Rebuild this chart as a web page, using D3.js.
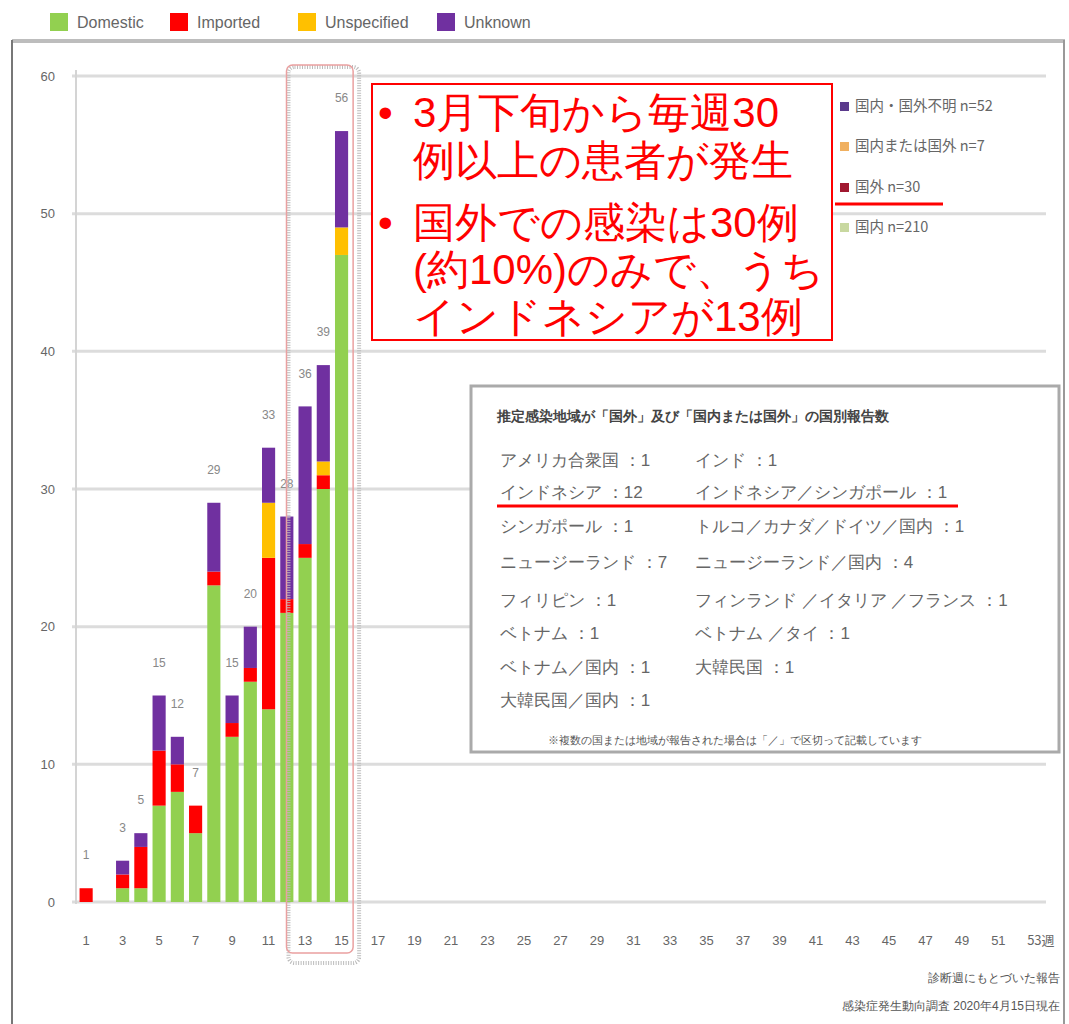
<!DOCTYPE html>
<html><head><meta charset="utf-8">
<script src="https://cdn.jsdelivr.net/npm/d3@7"></script>
<style>
body{margin:0;background:#fff;}
svg{display:block;}
text{font-family:"Liberation Sans",Arial,sans-serif;}
.jp{font-family:"Noto Sans CJK JP",sans-serif;}
</style></head>
<body>
<svg id="c" width="1069" height="1024"></svg>
<script>
// ---- data ----
const weeks = d3.range(1, 54);
const barWeeks = [1,2,3,4,5,6,7,8,9,10,11,12,13,14,15];
const domestic    = [0,0,1,1,7,8,5,23,12,16,14,21,25,30,47];
const imported    = [1,0,1,3,4,2,2,1,1,1,11,1,1,1,0];
const unspecified = [0,0,0,0,0,0,0,0,0,0,4,0,0,1,2];
const unknown     = [0,0,1,1,4,2,0,5,2,3,4,6,10,7,7];
const seriesNames = ["Domestic","Imported","Unspecified","Unknown"];
const seriesColors = ["#92d050","#ff0000","#ffc000","#7030a0"];
const xTickLabels = [1,3,5,7,9,11,13,15,17,19,21,23,25,27,29,31,33,35,37,39,41,43,45,47,49,51,53];
const yTicks = [0,10,20,30,40,50,60];
const rightLegend = ["国内・国外不明 n=52","国内または国外 n=7","国外 n=30","国内 n=210"];
const rightLegendColors = ["#5b3a8c","#f0b060","#a01830","#c8d8a0"];
const annotLines = ["3月下旬から毎週30","例以上の患者が発生","国外での感染は30例","(約10%)のみで、うち","インドネシアが13例"];
const insetTitle = "推定感染地域が「国外」及び「国内または国外」の国別報告数";
const insetCol1 = ["アメリカ合衆国 ：1","インドネシア ：12","シンガポール ：1","ニュージーランド ：7","フィリピン ：1","ベトナム ：1","ベトナム／国内 ：1","大韓民国／国内 ：1"];
const insetCol2 = ["インド ：1","インドネシア／シンガポール ：1","トルコ／カナダ／ドイツ／国内 ：1","ニュージーランド／国内 ：4","フィンランド ／イタリア ／フランス ：1","ベトナム ／タイ ：1","大韓民国 ：1"];
const insetNote = "※複数の国または地域が報告された場合は「／」で区切って記載しています";
const source = ["診断週にもとづいた報告","感染症発生動向調査 2020年4月15日現在"];

const svg = d3.select("#c");
svg.append("rect").attr("width",1069).attr("height",1024).attr("fill","#fff");

const x = d3.scaleBand().domain(weeks).range([77,1044]).paddingInner(0.28).paddingOuter(0.14);
const y = d3.scaleLinear().domain([0,60]).range([902,76]);

// frame
svg.append("line").attr("x1",12).attr("x2",1065).attr("y1",41).attr("y2",41).attr("stroke","#bdbdbd").attr("stroke-width",4);
svg.append("line").attr("x1",12).attr("x2",12).attr("y1",40).attr("y2",1024).attr("stroke","#777").attr("stroke-width",2);
svg.append("line").attr("x1",1064).attr("x2",1064).attr("y1",40).attr("y2",1024).attr("stroke","#999").attr("stroke-width",2);

// gridlines
svg.append("g").selectAll("line").data(yTicks).join("line")
  .attr("x1",72).attr("x2",1046).attr("y1",d=>y(d)).attr("y2",d=>y(d))
  .attr("stroke","#dcdcdc").attr("stroke-width",3);
svg.append("line").attr("x1",76).attr("x2",76).attr("y1",70).attr("y2",904).attr("stroke","#d4d4d4").attr("stroke-width",2);

// y labels
svg.append("g").selectAll("text").data(yTicks).join("text")
  .attr("x",55).attr("y",d=>y(d)).attr("dy","0.35em").attr("text-anchor","end")
  .attr("font-size",13).attr("fill","#666").text(d=>d);

// x labels
svg.append("g").selectAll("text").data(xTickLabels).join("text")
  .attr("x",d=>x(d)+x.bandwidth()/2 + (d===53?6:0)).attr("y",940).attr("dy","0.35em").attr("text-anchor","middle")
  .attr("font-size",13).attr("fill","#666")
  .attr("class",d=>d===53?"jp":null)
  .text(d=>d===53?"53週":d);

// stacked bars
const rows = barWeeks.map((w,i)=>({week:w,Domestic:domestic[i],Imported:imported[i],Unspecified:unspecified[i],Unknown:unknown[i]}));
const stack = d3.stack().keys(seriesNames)(rows);
svg.append("g").selectAll("g").data(stack).join("g")
  .attr("fill",(d,i)=>seriesColors[i])
  .selectAll("rect").data(d=>d).join("rect")
  .attr("x",d=>x(d.data.week)).attr("width",x.bandwidth())
  .attr("y",d=>y(d[1])).attr("height",d=>y(d[0])-y(d[1]));

// totals
svg.append("g").selectAll("text").data(rows.filter(r=>r.Domestic+r.Imported+r.Unspecified+r.Unknown>0)).join("text")
  .attr("x",d=>x(d.week)+x.bandwidth()/2)
  .attr("y",d=>y(d.Domestic+d.Imported+d.Unspecified+d.Unknown)-33).attr("dy","0.35em")
  .attr("text-anchor","middle").attr("font-size",12).attr("fill","#888")
  .text(d=>d.Domestic+d.Imported+d.Unspecified+d.Unknown);

// highlight rect around weeks 13-15
const hx0 = x(13)-12, hx1 = x(15)+x.bandwidth()+5;
svg.append("rect").attr("x",hx0+2).attr("y",67).attr("width",hx1-hx0+4).attr("height",896)
  .attr("rx",6).attr("fill","none").attr("stroke","#bbb").attr("stroke-width",4).attr("stroke-dasharray","1,1.5");
svg.append("rect").attr("x",hx0).attr("y",65).attr("width",hx1-hx0).attr("height",888)
  .attr("rx",6).attr("fill","none").attr("stroke","#eaa0a0").attr("stroke-width",1.5);

// top legend
const legX = [50,170,298,437];
const lg = svg.append("g");
seriesNames.forEach((n,i)=>{
  lg.append("rect").attr("x",legX[i]).attr("y",13).attr("width",18).attr("height",18).attr("fill",seriesColors[i]);
  lg.append("text").attr("x",legX[i]+27).attr("y",22).attr("dy","0.35em").attr("font-size",16).attr("fill","#666").text(n);
});

// right legend
const rl = svg.append("g");
const rlY = [106,146,187,227];
rightLegend.forEach((t,i)=>{
  rl.append("rect").attr("x",840).attr("y",rlY[i]-4).attr("width",9).attr("height",9).attr("fill",rightLegendColors[i]);
  rl.append("text").attr("class","jp").attr("x",855).attr("y",rlY[i]).attr("dy","0.35em").attr("font-size",14.5).attr("fill","#666").text(t);
});
svg.append("line").attr("x1",835).attr("x2",943).attr("y1",204).attr("y2",204).attr("stroke","#f00").attr("stroke-width",3);

// annotation box
svg.append("rect").attr("x",372).attr("y",84).attr("width",460).attr("height",256).attr("fill","#fff").attr("stroke","#f00").attr("stroke-width",2);
const annY = [112,160,222,269,316];
const ann = svg.append("g").attr("class","jp").attr("fill","#f00").attr("font-size",42);
annotLines.forEach((t,i)=>{
  ann.append("text").attr("x",413).attr("y",annY[i]).attr("dy","0.36em").text(t);
});
[0,2].forEach(i=>ann.append("text").attr("x",378).attr("y",annY[i]).attr("dy","0.36em").text("•"));

// inset box
svg.append("rect").attr("x",471).attr("y",386).attr("width",588).attr("height",366).attr("fill","#fff").attr("stroke","#aaa").attr("stroke-width",3);
const ins = svg.append("g").attr("class","jp");
ins.append("text").attr("x",497).attr("y",416).attr("dy","0.35em").attr("font-size",14).attr("font-weight","bold").attr("fill","#444").text(insetTitle);
const rowY = [460,492,526,562,600,633,667,700];
insetCol1.forEach((t,i)=>ins.append("text").attr("x",500).attr("y",rowY[i]).attr("dy","0.35em").attr("font-size",17).attr("fill","#666").text(t));
insetCol2.forEach((t,i)=>ins.append("text").attr("x",695).attr("y",rowY[i]).attr("dy","0.35em").attr("font-size",17).attr("fill","#666").text(t));
ins.append("text").attr("x",735).attr("y",740).attr("dy","0.35em").attr("text-anchor","middle").attr("font-size",11).attr("fill","#555").text(insetNote);
svg.append("line").attr("x1",497).attr("x2",958).attr("y1",506).attr("y2",506).attr("stroke","#f00").attr("stroke-width",3);

// source
const src = svg.append("g").attr("class","jp").attr("font-size",12).attr("fill","#555").attr("text-anchor","end");
src.append("text").attr("x",1060).attr("y",978).attr("dy","0.35em").text(source[0]);
src.append("text").attr("x",1060).attr("y",1006).attr("dy","0.35em").text(source[1]);
</script>
</body></html>
